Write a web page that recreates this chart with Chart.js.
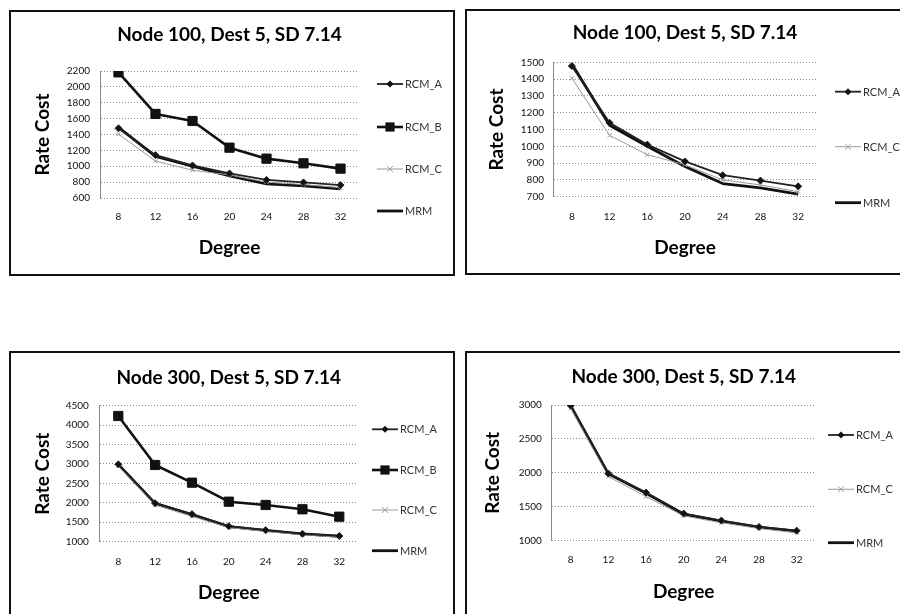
<!DOCTYPE html>
<html>
<head>
<meta charset="utf-8">
<script src="https://cdn.jsdelivr.net/npm/chart.js@4/dist/chart.umd.min.js"></script>
<style>
  body { margin: 0; background: #fff; width: 900px; height: 614px; overflow: hidden; position: relative; }
  .panel { position: absolute; border: 2px solid #111; background: #fff; }
  canvas { position: absolute; left: 0; top: 0; }
</style>
</head>
<body>
<div class="panel" style="left:9px; top:10px; width:442px; height:262px;"><canvas id="c1" width="442" height="262"></canvas></div>
<div class="panel" style="left:465px; top:9px; width:440px; height:262px;"><canvas id="c2" width="433" height="262"></canvas></div>
<div class="panel" style="left:9px; top:351px; width:442px; height:270px;"><canvas id="c3" width="442" height="261"></canvas></div>
<div class="panel" style="left:465px; top:351px; width:440px; height:270px;"><canvas id="c4" width="433" height="261"></canvas></div>
<script>
// categories
var degrees = ['8', '12', '16', '20', '24', '28', '32'];

// Node 100 series
var n100RcmA = [1478, 1140, 1010, 910, 828, 796, 762];
var n100RcmB = [2183, 1659, 1570, 1234, 1096, 1037, 970];
var n100RcmC = [1405, 1065, 950, 890, 800, 770, 730];
var n100Mrm  = [1490, 1125, 1000, 880, 778, 752, 716];

// Node 300 series
var n300RcmA = [2990, 1990, 1710, 1400, 1297, 1203, 1148];
var n300RcmB = [4235, 2974, 2519, 2030, 1945, 1834, 1644];
var n300RcmC = [2950, 1945, 1650, 1365, 1265, 1180, 1115];
var n300Mrm  = [2985, 1985, 1700, 1390, 1290, 1200, 1140];

var titleText = ['Node 100, Dest 5, SD 7.14', 'Node 300, Dest 5, SD 7.14'];

Chart.defaults.font.family = 'Lato, "Open Sans", sans-serif';

function series(name, values) {
    var styles = {
        RCM_A: { borderColor: '#222', borderWidth: 1.8, pointStyle: 'rectRot', pointRadius: 3.5, pointBackgroundColor: '#111' },
        RCM_B: { borderColor: '#111', borderWidth: 2.6, pointStyle: 'rect', pointRadius: 6.5, pointBackgroundColor: '#111' },
        RCM_C: { borderColor: '#9a9a9a', borderWidth: 1, pointStyle: 'crossRot', pointRadius: 3, pointBackgroundColor: '#9a9a9a' },
        MRM:   { borderColor: '#111', borderWidth: 2.8, pointStyle: 'line', pointRadius: 0, pointBackgroundColor: '#111' }
    };
    var s = styles[name];
    return {
        label: name,
        data: values,
        borderColor: s.borderColor,
        borderWidth: s.borderWidth,
        pointStyle: s.pointStyle,
        pointRadius: s.pointRadius,
        pointBackgroundColor: s.pointBackgroundColor,
        pointBorderColor: s.borderColor,
        pointBorderWidth: 1,
        tension: 0,
        fill: false
    };
}

// legend drawn beside the plot, one item per dataset
var sideLegend = {
    id: 'sideLegend',
    afterDraw: function (chart, args, opts) {
        var ctx = chart.ctx;
        ctx.save();
        chart.data.datasets.forEach(function (ds, i) {
            var x = opts.x, y = opts.ys[i];
            ctx.strokeStyle = ds.borderColor;
            ctx.lineWidth = ds.borderWidth;
            ctx.beginPath();
            ctx.moveTo(x, y);
            ctx.lineTo(x + 26, y);
            ctx.stroke();
            var r = ds.pointRadius, cx = x + 13;
            ctx.fillStyle = ds.pointBackgroundColor;
            ctx.lineWidth = 1;
            if (ds.pointStyle === 'rect') {
                var h = r * Math.SQRT1_2;
                ctx.fillRect(cx - h, y - h, 2 * h, 2 * h);
            } else if (ds.pointStyle === 'rectRot') {
                ctx.beginPath();
                ctx.moveTo(cx, y - r); ctx.lineTo(cx + r, y); ctx.lineTo(cx, y + r); ctx.lineTo(cx - r, y);
                ctx.closePath(); ctx.fill();
            } else if (ds.pointStyle === 'crossRot') {
                ctx.beginPath();
                ctx.moveTo(cx - r, y - r); ctx.lineTo(cx + r, y + r);
                ctx.moveTo(cx + r, y - r); ctx.lineTo(cx - r, y + r);
                ctx.stroke();
            }
            ctx.fillStyle = '#333';
            ctx.font = '11px Lato, sans-serif';
            ctx.textBaseline = 'middle';
            ctx.fillText(ds.label, x + 28, y + 0.5);
        });
        ctx.restore();
    }
};

function makeChart(id, title, datasets, yMin, yMax, yStep, lay) {
    var ctx = document.getElementById(id).getContext('2d');
    return new Chart(ctx, {
        type: 'line',
        data: { labels: degrees, datasets: datasets },
        plugins: [sideLegend],
        options: {
            responsive: false,
            animation: false,
            layout: { padding: { left: 0, right: lay.right, top: 0, bottom: 0 } },
            plugins: {
                legend: { display: false },
                tooltip: { enabled: false },
                title: {
                    display: true,
                    fullSize: false,
                    text: title,
                    color: '#000',
                    font: { size: 19, weight: 'bold' },
                    padding: { top: lay.titleTop, bottom: lay.titleBottom }
                },
                sideLegend: { x: lay.legendX, ys: lay.legendYs }
            },
            scales: {
                x: {
                    offset: true,
                    grid: { display: false, drawTicks: false },
                    border: { display: false },
                    ticks: { color: '#111', font: { size: 10 }, padding: lay.xTickPad },
                    title: {
                        display: true, text: 'Degree', color: '#000',
                        font: { size: 19, weight: 'bold' },
                        padding: { top: 0, bottom: lay.xTitlePad }
                    },
                    afterFit: function (scale) { scale.height = lay.xHeight; }
                },
                y: {
                    min: yMin, max: yMax,
                    grid: { color: '#8a8a8a', lineWidth: 1, drawTicks: false },
                    border: { display: true, color: '#8a8a8a', dash: [1, 2] },
                    ticks: {
                        stepSize: yStep, color: '#111', font: { size: 10 }, padding: lay.yTickPad,
                        callback: function (v) { return String(v); }
                    },
                    title: {
                        display: true, text: 'Rate Cost', color: '#000',
                        font: { size: 19, weight: 'bold' },
                        padding: { top: lay.yTitlePad, bottom: 0 }
                    },
                    afterFit: function (scale) { scale.width = lay.yWidth; }
                }
            },
            elements: { line: { borderJoinStyle: 'round' } }
        }
    });
}

makeChart('c1', titleText[0],
    [series('RCM_A', n100RcmA), series('RCM_B', n100RcmB), series('RCM_C', n100RcmC), series('MRM', n100Mrm)],
    600, 2200, 200,
    { right: 94, titleTop: 11.6, titleBottom: 24.6, yWidth: 89, yTitlePad: 20.6, yTickPad: 10,
      xHeight: 76, xTickPad: 13, xTitlePad: 14.6, legendX: 366, legendYs: [72, 115, 157, 199] });

makeChart('c2', titleText[0],
    [series('RCM_A', n100RcmA), series('RCM_C', n100RcmC), series('MRM', n100Mrm)],
    700, 1500, 100,
    { right: 83, titleTop: 10.6, titleBottom: 17.9, yWidth: 86, yTitlePad: 18.3, yTickPad: 9,
      xHeight: 76.3, xTickPad: 14.3, xTitlePad: 13.6, legendX: 368, legendYs: [80.7, 135.7, 191.7] });

makeChart('c3', titleText[1],
    [series('RCM_A', n300RcmA), series('RCM_B', n300RcmB), series('RCM_C', n300RcmC), series('MRM', n300Mrm)],
    1000, 4500, 500,
    { right: 95.3, titleTop: 13.9, titleBottom: 16, yWidth: 88.9, yTitlePad: 20.6, yTickPad: 11,
      xHeight: 72.3, xTickPad: 14, xTitlePad: 9.9, legendX: 361, legendYs: [76.3, 117, 157, 197.7] });

makeChart('c4', titleText[1],
    [series('RCM_A', n300RcmA), series('RCM_C', n300RcmC), series('MRM', n300Mrm)],
    1000, 3000, 500,
    { right: 84.5, titleTop: 12.3, titleBottom: 16.9, yWidth: 84.9, yTitlePad: 14.9, yTickPad: 10,
      xHeight: 73.3, xTickPad: 12.6, xTitlePad: 10.9, legendX: 361, legendYs: [82, 136.3, 189.7] });
</script>
</body>
</html>
